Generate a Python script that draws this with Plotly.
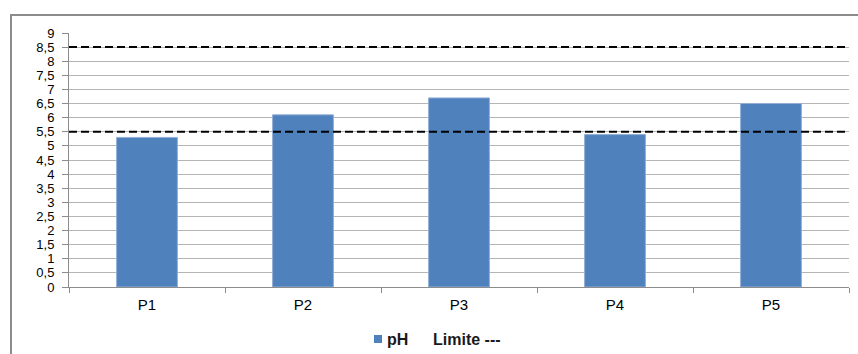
import plotly.graph_objects as go

# Data
points = ["P1", "P2", "P3", "P4", "P5"]
ph_values = [5.3, 6.1, 6.7, 5.4, 6.5]
limit_values = [5.5, 8.5]
y_ticks = [i * 0.5 for i in range(19)]
y_tick_text = [f"{v:g}".replace(".", ",") for v in y_ticks]

W, H = 858, 354
ML, MR, MT, MB = 69, 9, 33, 67
PW, PH = W - ML - MR, H - MT - MB

def px_x(px):
    return (px - ML) / PW

def px_y(py):
    return (H - MB - py) / PH

FONT = "Arial, Liberation Sans, sans-serif"
GREY = "#8c8c8c"

fig = go.Figure()
fig.add_trace(go.Bar(
    x=points, y=ph_values, name="pH", width=0.39,
    marker=dict(color="#4f81bd", line=dict(color="#93afd6", width=1)),
    showlegend=False,
))

# Limit lines across the full plot width
for v in limit_values:
    fig.add_shape(type="line", xref="paper", x0=0, x1=1, yref="y", y0=v, y1=v,
                  line=dict(color="black", width=2, dash="8px,4px"), layer="above")

# Outer chart frame
fig.add_shape(type="rect", xref="paper", yref="paper",
              x0=px_x(11), x1=px_x(880), y0=px_y(380), y1=px_y(15),
              line=dict(color=GREY, width=2), fillcolor="rgba(0,0,0,0)")

# Legend: swatch and labels
fig.add_shape(type="rect", xref="paper", yref="paper",
              x0=px_x(374), x1=px_x(382), y0=px_y(343), y1=px_y(335),
              line=dict(width=0), fillcolor="#4f81bd")
fig.add_annotation(xref="paper", yref="paper", x=px_x(385), y=px_y(339),
                   xanchor="left", yanchor="middle", showarrow=False,
                   text="<b>pH</b>", font=dict(family=FONT, size=16, color="#1a1a1a"))
fig.add_annotation(xref="paper", yref="paper", x=px_x(431), y=px_y(339),
                   xanchor="left", yanchor="middle", showarrow=False,
                   text="<b>Limite ---</b>", font=dict(family=FONT, size=16, color="#1a1a1a"))

fig.update_layout(
    width=W, height=H,
    margin=dict(l=ML, r=MR, t=MT, b=MB, pad=0),
    paper_bgcolor="white", plot_bgcolor="white",
    font=dict(family=FONT, color="black"),
    bargap=0.61,
    xaxis=dict(
        range=[-0.5, 4.5], showgrid=False, showline=True, linecolor=GREY, linewidth=1,
        ticks="outside", tickson="boundaries", ticklen=5, tickcolor=GREY,
        tickfont=dict(size=15, color="black"), ticklabelstandoff=4,
    ),
    yaxis=dict(
        range=[0, 9], tickvals=y_ticks, ticktext=y_tick_text,
        showgrid=True, gridcolor="#b5b5b5", gridwidth=1, zeroline=False,
        showline=True, linecolor=GREY, linewidth=1,
        ticks="outside", ticklen=6, tickcolor=GREY,
        tickfont=dict(size=13, color="black"), ticklabelstandoff=5,
    ),
)

fig.write_html("out.html")
